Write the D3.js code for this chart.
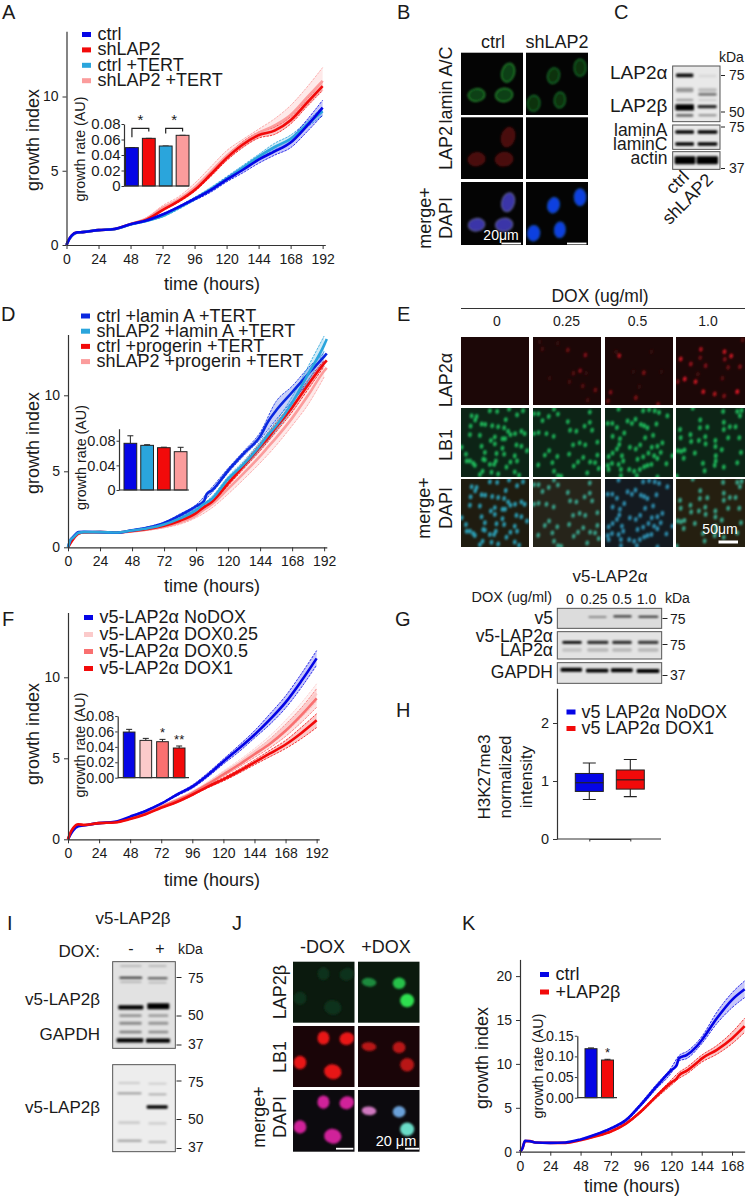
<!DOCTYPE html>
<html><head><meta charset="utf-8">
<script src="https://cdn.jsdelivr.net/npm/d3@7"></script>
<style>html,body{margin:0;padding:0;background:#fff}svg{display:block}text{font-family:"Liberation Sans",Arial,sans-serif;fill:#1a1a1a}</style>
</head><body><div id="c"></div>
<script>
// ---------- series colours / names ----------
const BLUE="#0505e6",RED="#f20a0a",SKY="#2aa5dc",PINK="#fb9c9c",PALE="#fbcaca",SALMON="#f97070";
// ---------- panel A ----------
const T_A=[0,2,4,8,12,24,36,48,60,72,84,96,108,120,132,144,156,168,180,192];
const bandT=[48,60,72,84,96,108,120,132,144,156,168,180,192];
const A_ctrl=[0,.4,.65,.85,.87,1,1.08,1.4,1.65,2.05,2.55,3.1,3.7,4.4,5.05,5.75,6.3,6.9,8,9.25];
const A_sh=[0,.4,.65,.85,.87,1,1.08,1.4,1.7,2.35,2.95,3.7,4.75,5.85,6.75,7.4,7.7,8.4,9.55,10.7];
const A_ctrlT=[0,.38,.62,.84,.87,1,1.07,1.38,1.62,1.95,2.5,3.1,3.75,4.45,5.2,5.95,6.6,7.15,8.1,9];
const A_shT=[0,.38,.62,.84,.87,1,1.07,1.42,1.78,2.5,3.05,3.85,4.9,6,6.85,7.55,8.05,8.75,9.9,11.05];
const A_ctrl_hi=[1.43,1.7,2.1,2.62,3.2,3.8,4.55,5.25,5.95,6.55,7.2,8.4,9.75],A_ctrl_lo=[1.36,1.6,2,2.48,3,3.55,4.25,4.85,5.5,6.05,6.55,7.6,8.75];
const A_sh_hi=[1.43,1.75,2.4,3.02,3.8,4.9,6.02,6.95,7.6,7.95,8.65,9.8,11],A_sh_lo=[1.38,1.66,2.3,2.88,3.6,4.6,5.68,6.55,7.2,7.45,8.15,9.3,10.4];
const A_ctrlT_hi=[1.4,1.66,2,2.6,3.2,3.88,4.6,5.35,6.1,6.85,7.4,8.3,9.3],A_ctrlT_lo=[1.35,1.58,1.88,2.4,3,3.6,4.3,5.05,5.8,6.4,6.9,7.9,8.7];
const A_shT_hi=[1.46,1.85,2.65,3.25,4.15,5.25,6.35,7.1,7.8,8.5,9.4,10.6,11.95],A_shT_lo=[1.38,1.72,2.4,2.9,3.65,4.6,5.7,6.6,7.3,7.75,8.3,9.4,10.5];
const A_legend=["ctrl","shLAP2","ctrl +TERT","shLAP2 +TERT"];
const A_rate=[.0495,.0615,.0516,.0654];
// ---------- panel D ----------
const T_D=[0,2,4,8,12,24,36,48,60,72,84,96,102,104,108,120,132,144,150,156,168,180,192,194];
const D_ctrl=[0,.5,.7,1,1.02,1,.96,1.12,1.3,1.6,2.1,2.7,3.05,3.5,3.75,5.05,6.2,7.3,8.27,9,10.2,11.4,12.55,12.75];
const D_sh=[0,.5,.65,.95,1,1,.97,1.1,1.25,1.5,1.9,2.45,2.85,2.95,3.2,4.5,5.5,6.7,7.4,8,9.5,11.4,13.3,13.7];
const D_red=[0,.3,.55,.9,.97,1,.97,1.08,1.2,1.42,1.75,2.25,2.65,2.75,3,4.2,5.4,6.6,7.2,7.9,9.2,10.7,12.1,12.3];
const D_pink=[0,.3,.55,.9,.97,1,.97,1.05,1.17,1.35,1.65,2.1,2.5,2.6,2.85,3.85,4.9,6,6.6,7.2,8.5,10,11.6,11.8];
const D_ctrl_hi=[1.15,1.35,1.65,2.2,2.8,3.95,5.2,6.35,7.55,9.6,10.6,11.8,12.8],D_ctrl_lo=[1.1,1.27,1.55,2,2.6,3.6,4.9,6.05,7.1,8.4,9.6,10.8,12];
const D_sh_hi=[1.13,1.3,1.55,1.95,2.55,3.35,4.65,5.7,6.95,8.3,9.9,11.9,13.9],D_sh_lo=[1.08,1.2,1.45,1.85,2.35,3.05,4.35,5.3,6.45,7.7,9.1,10.9,12.9];
const D_red_hi=[1.1,1.23,1.47,1.82,2.35,3.15,4.35,5.6,6.85,8.2,9.5,11,12.3],D_red_lo=[1.06,1.17,1.38,1.68,2.15,2.85,4.05,5.2,6.35,7.6,8.9,10.4,11.9];
const D_pink_hi=[1.08,1.22,1.42,1.78,2.25,3.05,4.15,5.25,6.4,7.7,9.1,10.6,12.1],D_pink_lo=[1.02,1.12,1.28,1.52,1.95,2.6,3.5,4.5,5.55,6.7,8,9.4,11.2];
const D_legend=["ctrl +lamin A +TERT","shLAP2 +lamin A +TERT","ctrl +progerin +TERT","shLAP2 +progerin +TERT"];
const D_rate=[.0758,.0725,.0687,.0622],D_rateErr=[.088,.0735,.0695,.0693];
// ---------- panel F ----------
const F_no=[0,.3,.55,.8,.85,1,1.08,1.4,1.75,2.2,2.75,3.25,3.97,4.8,5.6,6.45,7.4,8.45,9.75,11.17];
const F_25=[0,.4,.65,.9,.88,1,1.05,1.3,1.62,2.05,2.45,2.9,3.45,4.1,4.7,5.4,6.1,6.95,7.9,9];
const F_5=[0,.4,.65,.9,.88,1,1.05,1.28,1.6,2,2.4,2.85,3.4,4,4.6,5.25,5.9,6.7,7.65,8.7];
const F_1=[0,.42,.7,.93,.88,1,1.04,1.25,1.55,1.95,2.3,2.75,3.25,3.7,4.2,4.75,5.3,5.85,6.55,7.35];
const F_no_hi=[1.43,1.8,2.25,2.82,3.35,4.1,4.95,5.8,6.7,7.75,8.85,10.2,11.65],F_no_lo=[1.37,1.7,2.15,2.68,3.15,3.85,4.65,5.4,6.25,7.1,8.1,9.35,10.75];
const F_25_hi=[1.32,1.65,2.08,2.5,2.97,3.55,4.22,4.88,5.6,6.4,7.35,8.4,9.6],F_25_lo=[1.28,1.58,2.02,2.4,2.83,3.35,3.98,4.55,5.2,5.85,6.6,7.5,8.5];
const F_5_hi=[1.3,1.63,2.03,2.45,2.92,3.5,4.12,4.75,5.45,6.2,7.1,8.1,9.3],F_5_lo=[1.26,1.57,1.97,2.35,2.78,3.3,3.88,4.45,5.05,5.65,6.35,7.2,8.15];
const F_1_hi=[1.27,1.58,1.98,2.34,2.8,3.32,3.8,4.32,4.9,5.5,6.1,6.9,7.75],F_1_lo=[1.23,1.52,1.92,2.26,2.7,3.18,3.6,4.08,4.6,5.1,5.6,6.2,6.9];
const F_legend=["v5-LAP2α NoDOX","v5-LAP2α DOX0.25","v5-LAP2α DOX0.5","v5-LAP2α DOX1"];
const F_rate=[.0592,.0484,.0467,.0385],F_rateErr=[.0627,.051,.0497,.0411];
// ---------- panel K ----------
const T_K=[0,2,4,8,12,24,36,48,60,72,84,96,108,120,124,126,132,140,144,156,168,178];
const K_bandT=[48,60,72,84,96,108,120,126,132,144,156,168,178];
const K_c=[0,.4,1.25,1.2,1.05,1,1.05,1.4,1.95,2.65,3.6,5.4,7.4,9.3,9.8,10.65,11,12,12.7,15.2,17.3,18.5];
const K_r=[0,.4,1.2,1.2,1.05,1,1,1.3,1.75,2.3,3.2,4.6,6.3,7.9,8.3,8.7,9.2,10.1,10.6,11.6,12.9,14.3];
const K_c_hi=[1.45,2.02,2.75,3.75,5.6,7.65,9.6,10.95,11.4,13.1,15.9,18.1,19.45],K_c_lo=[1.35,1.88,2.55,3.45,5.2,7.15,9,10.35,10.6,12.3,14.6,16.4,17.55];
const K_r_hi=[1.33,1.82,2.38,3.3,4.75,6.5,8.2,9.05,9.6,11,12.1,13.6,15.2],K_r_lo=[1.27,1.7,2.22,3.1,4.45,6.1,7.6,8.35,8.85,10.2,11.1,12.3,13.6];
const K_legend=["ctrl","+LAP2β"];
const K_rate=[.1186,.0912],K_rateErr=[.1205,.093];
// ---------- panel H ----------
const H_names=["v5 LAP2α NoDOX","v5 LAP2α DOX1"];
const H_lo=[.68,.73],H_q1=[.82,.86],H_med=[.97,1.02],H_q3=[1.13,1.19],H_hi=[1.31,1.37];
const xTicks=[0,24,48,72,96,120,144,168,192];
// ---------- micrograph nuclei (crop-grid coordinates) ----------
const E_col1=[[90,18],[112,20],[148,13],[190,18],[172,30],[35,33],[50,35],[46,45],[138,44],[32,63],[65,57],[76,58],[97,62],[115,65],[133,68],[145,78],[152,88],[166,85],[185,78],[195,85],[30,88],[60,90],[105,95],[93,105],[128,100],[136,100],[105,115],[170,118],[185,122],[65,122],[5,125],[128,128],[202,135],[75,140],[18,145],[110,143],[133,145],[165,150],[70,160],[108,165],[75,162],[172,165],[40,172],[30,165],[20,165],[45,178],[90,175],[103,175],[152,168],[140,183],[68,195],[60,205],[95,198],[115,203],[165,197],[178,207]];
const E_col2=[[283,13],[222,27],[236,27],[295,28],[267,35],[248,47],[392,22],[392,52],[325,50],[376,63],[399,75],[332,75],[351,78],[222,85],[236,82],[260,85],[282,93],[415,110],[361,112],[341,118],[378,118],[268,135],[255,148],[293,152],[329,145],[415,148],[372,155],[393,168],[408,170],[356,168],[278,170],[235,177],[343,180],[419,187],[283,195],[384,200],[295,208],[305,210]];
const E_col3=[[48,13],[122,18],[140,15],[157,18],[170,23],[195,33],[75,48],[88,55],[99,43],[15,55],[29,55],[115,58],[125,62],[135,68],[162,57],[43,67],[65,83],[30,93],[52,100],[128,97],[152,90],[180,112],[165,122],[148,125],[113,118],[50,117],[43,130],[82,125],[100,130],[30,142],[138,142],[122,153],[155,150],[175,140],[18,152],[58,150],[105,160],[165,158],[210,150],[62,165],[48,175],[28,172],[15,178],[18,190],[55,190],[80,190],[95,195],[112,190],[125,182],[135,178],[147,175],[192,173],[103,208],[55,208],[165,212]];
const E_col4=[[360,20],[402,20],[415,17],[410,33],[292,45],[362,52],[380,65],[397,65],[291,68],[313,66],[362,73],[232,73],[263,88],[234,97],[375,97],[408,97],[307,94],[288,105],[265,108],[337,105],[308,115],[337,123],[356,132],[225,135],[245,133],[235,137],[276,142],[338,150],[413,140],[243,157],[338,165],[402,170],[300,172],[335,178],[362,183],[305,194],[222,210],[270,10]];
const E_red2=[[115,45,.5],[168,60,.6],[38,42,.3],[152,107,.6],[132,115,.4],[198,165,.5],[160,153,.4],[120,140,.3],[60,130,.2],[30,20,.2],[85,25,.2],[170,115,.2],[175,195,.3]];
const E_red3=[[268,62,.8],[342,113,.6],[242,172,.6],[234,198,.5],[318,188,.6],[385,208,.6],[328,155,.2],[258,50,.2],[365,50,.2],[395,110,.15],[310,110,.15]];
const E_red4=[[514,43,.8],[584,50,.9],[604,63,.9],[454,72,.9],[484,87,.7],[585,73,.6],[512,68,.5],[595,97,.5],[630,95,.6],[528,92,.6],[466,132,.95],[445,140,.6],[498,140,.9],[521,170,.9],[555,177,.8],[583,183,.6],[622,170,1],[578,130,.4],[638,15,.4],[505,118,.3]];
const B_cells1=[[142,60,19,29,15],[47,127,25,19,-8],[130,127,26,20,-8]];
const B_cells2=[[83,69,18,24,15],[163,45,18,26,0],[23,152,19,24,5],[102,142,17,24,5]];
const J_cells1=[[91,36,18,20,0],[161,38,22,19,-15],[21,110,19,20,0],[119,138,26,22,10]];
const J_cells2=[[33,62,22,13,5],[123,65,19,17,0],[147,117,21,20,0]];
// ---------- blots: lane x0, lane x1, y, height, darkness (crop-grid coordinates) ----------
const C_blot1=[[888,940,226,11,.95],[955,1010,228,8,.08],[888,940,270,14,.35],[955,1010,270,10,.2],[955,1010,283,8,.5],[888,940,300,8,.3],[955,1010,300,6,.12],[886,942,322,19,1],[953,1010,320,10,.85],[888,940,346,8,.55],[955,1010,346,6,.4]];
const C_blot2=[[886,942,396,10,1],[953,1012,396,10,1],[886,942,432,11,1],[953,1012,432,10,1]];
const C_blot3=[[884,946,481,24,1],[950,1014,481,24,1]];
const G_blot1=[[565,620,186,5,.5],[640,695,184,7,.75],[715,775,185,6,.8]];
const G_blot2=[[487,545,262,8,1],[562,625,262,10,.8],[637,695,262,10,.8],[714,775,262,10,.75],[487,545,285,10,.15],[562,625,285,10,.2],[637,695,285,10,.2],[714,775,285,10,.2]];
const G_blot3=[[482,546,344,12,1],[558,625,347,11,1],[633,698,346,12,1],[710,778,348,12,1]];
const I_blot1=[[360,425,198,5,.25],[445,500,198,5,.25],[358,427,233,6,.8],[443,503,235,6,.65],[360,425,246,4,.25],[445,500,248,4,.25],[355,430,322,13,1],[442,508,319,18,1],[358,425,347,8,.35],[445,505,347,8,.3],[358,425,370,9,.4],[445,505,370,9,.35],[358,425,396,8,.45],[445,505,396,8,.4],[350,430,421,13,1],[438,510,422,13,1]];
const I_blot2=[[355,420,549,5,.2],[445,500,551,5,.15],[352,425,580,5,.4],[445,500,583,5,.3],[440,503,621,11,1],[355,420,668,8,.15],[445,500,670,8,.12],[352,425,722,6,.35],[445,500,726,6,.25]];

const W=747,H=1197;
const svg=d3.select("#c").append("svg").attr("width",W).attr("height",H).attr("viewBox",[0,0,W,H]);
const defs=svg.append("defs");
[["b1",.8],["b2",.5],["b3",1.2]].forEach(([id,s])=>defs.append("filter").attr("id",id).attr("x","-30%").attr("y","-60%").attr("width","160%").attr("height","220%").append("feGaussianBlur").attr("stdDeviation",s));

function T(x,y,s,o={}){
  const t=svg.append("text").attr("x",x).attr("y",y).text(s)
    .attr("font-size",o.size||18).attr("text-anchor",o.anchor||"start");
  if(o.rot!=null)t.attr("transform",`rotate(${o.rot},${x},${y})`);
  if(o.fill)t.style("fill",o.fill);
  return t;
}
function styleAxis(g,size){
  g.select(".domain").attr("stroke","#333").attr("stroke-width",1.2);
  g.selectAll(".tick line").attr("stroke","#333").attr("stroke-width",1);
  g.selectAll(".tick text").attr("font-size",size).attr("font-family",'"Liberation Sans",Arial,sans-serif').style("fill","#1a1a1a");
}
// growth curve panel
function growth(o){
  const x=d3.scaleLinear().domain([0,o.xMax]).range([o.x0,o.x0+o.xMax*o.xk]);
  const y=d3.scaleLinear().domain([0,o.yMax]).range([o.y0,o.y0-o.yMax*o.yk]);
  const g=svg.append("g");
  const ln=d3.line().x(d=>x(d[0])).y(d=>y(d[1])).curve(d3.curveMonotoneX);
  const ar=d3.area().x(d=>x(d[0])).y0(d=>y(d[2])).y1(d=>y(d[1])).curve(d3.curveMonotoneX);
  o.series.forEach(s=>{
    const bt=o.bandT;
    const hi=bt.map((t,i)=>[t,s.hi[i]]),lo=bt.map((t,i)=>[t,s.lo[i]]);
    g.append("path").attr("d",ar(bt.map((t,i)=>[t,s.hi[i],s.lo[i]]))).attr("fill",s.c).attr("opacity",.22);
    [hi,lo].forEach(b=>g.append("path").attr("d",ln(b)).attr("fill","none").attr("stroke",s.c).attr("stroke-width",.8).attr("stroke-dasharray","2.5 1"));
  });
  o.series.forEach(s=>{
    g.append("path").attr("d",ln(o.t.map((t,i)=>[t,s.v[i]]))).attr("fill","none").attr("stroke",s.c).attr("stroke-width",2.6);
  });
  const ax=svg.append("g").attr("transform",`translate(0,${o.y0})`).call(d3.axisBottom(x).tickValues(o.xTicks).tickSize(4).tickSizeOuter(0).tickPadding(5));
  styleAxis(ax,14);
  const ay=svg.append("g").attr("transform",`translate(${o.x0},0)`).call(d3.axisLeft(y).tickValues(o.yTicks).tickSize(4).tickSizeOuter(0).tickPadding(4));
  styleAxis(ay,14);
  T(o.ylabX,o.ylabY,"growth index",{rot:-90,anchor:"middle"});
  T(o.xlabX,o.xlabY,"time (hours)",{anchor:"middle"});
  // legend
  o.legend.forEach((n,i)=>{
    const yy=o.legY+i*o.legStep;
    svg.append("rect").attr("x",o.legX).attr("y",yy-8).attr("width",9).attr("height",5).attr("fill",o.series.find(s=>s.n===n).c);
    T(o.legX+15.5,yy,n,{size:o.legSize||18});
  });
}
// inset bars
function inset(o){
  const y=d3.scaleLinear().domain([0,o.yMax]).range([o.y0,o.y0-o.yMax*o.yk]);
  const x=d3.scaleBand().domain(d3.range(o.vals.length)).range(o.xr).paddingInner(o.pad).paddingOuter(0);
  svg.selectAll(null).data(o.vals).enter().append("path")
    .attr("d",(d,i)=>`M${x(i)+x.bandwidth()/2},${y(o.err?o.err[i]:d)}V${y(d)}M${x(i)+x.bandwidth()/2-3},${y(o.err?o.err[i]:d)}h6`)
    .attr("stroke","#222").attr("stroke-width",1).attr("fill","none");
  svg.selectAll(null).data(o.vals).enter().append("rect")
    .attr("x",(d,i)=>x(i)).attr("width",x.bandwidth()).attr("y",d=>y(d)).attr("height",d=>o.y0-y(d))
    .attr("fill",(d,i)=>o.colors[i]).attr("stroke","#222").attr("stroke-width",1);
  const ay=svg.append("g").attr("transform",`translate(${o.axX},0)`).call(d3.axisLeft(y).tickValues(o.ticks).tickFormat(o.fmt).tickSize(2.5).tickSizeOuter(0).tickPadding(1));
  styleAxis(ay,o.tickSize||15);
  svg.append("line").attr("x1",o.axX).attr("x2",o.axEnd).attr("y1",o.y0).attr("y2",o.y0).attr("stroke","#333").attr("stroke-width",1.2);
  T(o.labX,o.labY,"growth rate (AU)",{size:14.3,rot:-90,anchor:"middle"});
  return {x,y};
}
// fluorescence image
function field(box,bg){
  svg.append("rect").attr("x",box[0]).attr("y",box[1]).attr("width",box[2]-box[0]).attr("height",box[3]-box[1]).attr("fill",bg);
}
function nuclei(box,cells,dom,col,rim,blur){
  const sx=d3.scaleLinear().domain(dom.x).range([box[0],box[2]]),sy=d3.scaleLinear().domain(dom.y).range([box[1],box[3]]);
  const k=(box[2]-box[0])/(dom.x[1]-dom.x[0]);
  const clip="cp"+Math.round(box[0])+"_"+Math.round(box[1]);
  defs.append("clipPath").attr("id",clip).append("rect").attr("x",box[0]).attr("y",box[1]).attr("width",box[2]-box[0]).attr("height",box[3]-box[1]);
  const g=svg.append("g").attr("clip-path",`url(#${clip})`).append("g").attr("filter",`url(#${blur||"b1"})`);
  cells.forEach(c=>{
    const cx=sx(dom.x[0]+c[0]),cy=sy(dom.y[0]+c[1]),rx=c[2]*k,ry=c[3]*k;
    g.append("ellipse").attr("cx",cx).attr("cy",cy).attr("rx",rx).attr("ry",ry).attr("transform",`rotate(${c[4]||0},${cx},${cy})`)
      .attr("fill",c[5]||col).attr("stroke",rim||"none").attr("stroke-width",rim?1.2:0);
  });
}
function blot(ox,oy,box,bands,bg){
  const X=v=>ox+v/3,Y=v=>oy+v/3;
  svg.append("rect").attr("x",X(box[0])).attr("y",Y(box[2])).attr("width",(box[1]-box[0])/3).attr("height",(box[3]-box[2])/3).attr("fill",bg||"#e9e9e9");
  const g=svg.append("g").attr("filter","url(#b1)");
  bands.forEach(b=>g.append("rect").attr("x",X(b[0])).attr("y",Y(b[2]-b[3]/2)).attr("width",(b[1]-b[0])/3).attr("height",b[3]/3).attr("rx",1).attr("fill","#050505").attr("opacity",b[4]));
  svg.append("rect").attr("x",X(box[0])).attr("y",Y(box[2])).attr("width",(box[1]-box[0])/3).attr("height",(box[3]-box[2])/3).attr("fill","none").attr("stroke","#555").attr("stroke-width",1);
}
function tick(x1,x2,y){svg.append("line").attr("x1",x1).attr("x2",x2).attr("y1",y).attr("y2",y).attr("stroke","#222").attr("stroke-width",1);}
function scalebar(x1,x2,y){svg.append("rect").attr("x",x1).attr("y",y-.9).attr("width",x2-x1).attr("height",1.8).attr("fill","#fff");}

// panel letters
[["A",2,18.5],["B",397,18.5],["C",614,18.5],["D",1,321],["E",397,321],["F",2,626],["G",395,626],["H",396,717],["I",7,930],["J",232,930],["K",462,930]]
 .forEach(d=>T(d[1],d[2],d[0],{size:20}));

// ---- A ----
growth({x0:66.5,xk:1.334,xMax:194,y0:245,yk:14.85,yMax:14.4,t:T_A,bandT,xTicks,yTicks:[0,5,10],
  series:[{n:A_legend[3],c:PINK,v:A_shT,hi:A_shT_hi,lo:A_shT_lo},{n:A_legend[1],c:RED,v:A_sh,hi:A_sh_hi,lo:A_sh_lo},{n:A_legend[2],c:SKY,v:A_ctrlT,hi:A_ctrlT_hi,lo:A_ctrlT_lo},{n:A_legend[0],c:BLUE,v:A_ctrl,hi:A_ctrl_hi,lo:A_ctrl_lo}],
  legend:A_legend,legX:82,legY:40,legStep:15.4,ylabX:38.5,ylabY:140,xlabX:212,xlabY:290});
const iA=inset({y0:186,yk:775,yMax:.08,vals:A_rate,colors:[BLUE,RED,SKY,PINK],xr:[125.5,189],pad:.24,axX:124,axEnd:189,ticks:[0,.02,.04,.06,.08],fmt:d=>d===0?"0":d3.format(".2f")(d),labX:85,labY:149});
[[0,.0744,.0628,.0702],[2,.0744,.0678,.0702]].forEach(b=>{
  const a=iA.x(b[0])+iA.x.bandwidth()/2,c=iA.x(b[0]+1)+iA.x.bandwidth()/2;
  svg.append("path").attr("d",`M${a},${iA.y(b[2])}V${iA.y(b[1])}H${c}V${iA.y(b[3])}`).attr("fill","none").attr("stroke","#222").attr("stroke-width",1.2);
  T((a+c)/2,iA.y(b[1])-3,"*",{size:15,anchor:"middle"});
});

// ---- D ----
growth({x0:68,xk:1.334,xMax:194,y0:547.3,yk:15.2,yMax:14,t:T_D,bandT,xTicks,yTicks:[0,5,10],
  series:[{n:D_legend[3],c:PINK,v:D_pink,hi:D_pink_hi,lo:D_pink_lo},{n:D_legend[2],c:RED,v:D_red,hi:D_red_hi,lo:D_red_lo},{n:D_legend[0],c:"#0a28e0",v:D_ctrl,hi:D_ctrl_hi,lo:D_ctrl_lo},{n:D_legend[1],c:SKY,v:D_sh,hi:D_sh_hi,lo:D_sh_lo}],
  legend:D_legend,legX:81,legY:321.5,legStep:15.2,ylabX:39,ylabY:443,xlabX:212,xlabY:592});
inset({y0:490,yk:616,yMax:.0995,vals:D_rate,err:D_rateErr,colors:[BLUE,SKY,RED,PINK],xr:[124,187],pad:.24,axX:119,axEnd:189,tickSize:14.5,ticks:[0,.04,.08],fmt:d=>d===0?"0":d3.format(".2f")(d),labX:86,labY:457.5});

// ---- B ----
const Bb=[[461,52.7,523,115],[526,52.7,588,115],[461,117.3,523,179],[526,117.3,588,179],[461,182,523,245],[526,182,588,245]];
const Bd={x:[0,187],y:[0,187]};
Bb.forEach(b=>field(b,"#040404"));
nuclei(Bb[0],B_cells1,Bd,"#0d3f12","#258a30");
nuclei(Bb[1],B_cells2,Bd,"#0a3310","#17702a");
nuclei(Bb[2],B_cells1,Bd,"#4a0c0c","#5c1010");
nuclei(Bb[4],B_cells1,Bd,"#3a34a8","#5a5a90");
nuclei(Bb[5],B_cells2,Bd,"#0b40e0","#123f90");
T(493,48,"ctrl",{anchor:"middle"});T(557,48,"shLAP2",{anchor:"middle"});
T(451.5,85,"lamin A/C",{rot:-90,anchor:"middle"});T(451.5,148,"LAP2",{rot:-90,anchor:"middle"});
T(430.5,218,"merge+",{rot:-90,anchor:"middle"});T(451.5,218,"DAPI",{rot:-90,anchor:"middle"});
T(501,240,"20μm",{size:14,anchor:"middle",fill:"#fff"});scalebar(501.5,521,243.5);scalebar(567,586.5,243.5);

// ---- C ----
blot(380,0,[878,1020,198,365],C_blot1);blot(380,0,[878,1020,375,448],C_blot2);blot(380,0,[878,1020,455,508],C_blot3);
T(719,62,"kDa",{size:14});
[["LAP2α",79],["LAP2β",112],["laminA",136],["laminC",150],["actin",164]].forEach(d=>T(667.5,d[1],d[0],{anchor:"end",size:d[0][0]==="L"?19:17.5}));
[["75",80,75.5],["50",117,112],["75",132,127],["37",173,168.5]].forEach(d=>{T(729,d[1],d[0],{size:14});tick(721,725,d[2]);});
T(690,178,"ctrl",{size:18,rot:-45,anchor:"end"});T(714,181,"shLAP2",{size:18,rot:-45,anchor:"end"});

// ---- E ----
T(600,302,"DOX (ug/ml)",{size:17.5,anchor:"middle"});
svg.append("line").attr("x1",461).attr("x2",745).attr("y1",308.5).attr("y2",308.5).attr("stroke","#333").attr("stroke-width",1.2);
["0","0.25","0.5","1.0"].forEach((s,i)=>T([497,566.5,637.5,708][i],326,s,{size:14,anchor:"middle"}));
const Ecols=[[461,529],[533,601],[605,673],[676,745]],Erows=[[337,405],[408,477],[479,547]];
const Edom=[{x:[3,208],y:[10,212]},{x:[219,426],y:[10,212]},{x:[7,212],y:[10,212]},{x:[220,425],y:[10,212]}];
const Redd=[null,{x:[10,215],y:[6,210]},{x:[225,430],y:[6,210]},{x:[440,645],y:[6,210]}];
const Ecells=[E_col1,E_col2,E_col3,E_col4],Ered=[[],E_red2,E_red3,E_red4];
const mergeBg=["#1f1c10","#26241a","#141a20","#251f10"],mergeC=["#2b9fb5","#3aa890","#2d8fb0","#39a88c"];
Ecols.forEach((c,i)=>{
  field([c[0],Erows[0][0],c[1],Erows[0][1]],"#1c0707");
  if(i)nuclei([c[0],Erows[0][0],c[1],Erows[0][1]],Ered[i].map(d=>[d[0]-Redd[i].x[0],d[1]-Redd[i].y[0],5.5,7.5,15,d3.interpolateRgb("#220808","#e01828")(Math.pow(d[2],1.4))]),{x:[0,205],y:[0,204]},"#800");
  const bl=[c[0],Erows[1][0],c[1],Erows[1][1]],bm=[c[0],Erows[2][0],c[1],Erows[2][1]];
  field(bl,"#0d2416");
  const rel=Ecells[i].map(d=>[d[0]-Edom[i].x[0],d[1]-Edom[i].y[0],5.5,7.5,10]);
  const dm={x:[0,Edom[i].x[1]-Edom[i].x[0]],y:[0,202]};
  nuclei(bl,rel,dm,"#1fb85a");
  field(bm,mergeBg[i]);
  nuclei(bm,rel,dm,mergeC[i]);
});
T(451.5,380,"LAP2α",{rot:-90,anchor:"middle"});T(451.5,445,"LB1",{rot:-90,anchor:"middle"});
T(430,508,"merge+",{rot:-90,anchor:"middle"});T(451.5,508,"DAPI",{rot:-90,anchor:"middle"});
T(720,534,"50μm",{size:14,anchor:"middle",fill:"#fff"});svg.append("rect").attr("x",718.5).attr("y",540.5).attr("width",19.5).attr("height",3).attr("fill","#fff");

// ---- F ----
growth({x0:68,xk:1.295,xMax:194,y0:839.3,yk:16.2,yMax:14,t:T_A,bandT,xTicks,yTicks:[0,5,10],
  series:[{n:F_legend[1],c:PALE,v:F_25,hi:F_25_hi,lo:F_25_lo},{n:F_legend[2],c:SALMON,v:F_5,hi:F_5_hi,lo:F_5_lo},{n:F_legend[0],c:BLUE,v:F_no,hi:F_no_hi,lo:F_no_lo},{n:F_legend[3],c:RED,v:F_1,hi:F_1_hi,lo:F_1_lo}],
  legend:F_legend,legX:84,legY:623,legStep:17,ylabX:39,ylabY:734,xlabX:212,xlabY:886});
const iF=inset({y0:777.7,yk:771,yMax:.08,vals:F_rate,err:F_rateErr,colors:[BLUE,PALE,SALMON,RED],xr:[123.3,185],pad:.3,axX:117.7,axEnd:189,tickSize:14.3,ticks:[0,.02,.04,.06,.08],fmt:d3.format(".2f"),labX:85,labY:745});
T(iF.x(2)+iF.x.bandwidth()/2,iF.y(.0497)-2,"*",{size:13,anchor:"middle"});
T(iF.x(3)+iF.x.bandwidth()/2,iF.y(.0411)-2,"**",{size:13,anchor:"middle"});

// ---- G ----
T(610,582,"v5-LAP2α",{size:17,anchor:"middle"});T(471.5,602,"DOX (ug/ml)",{size:14.5});
["0","0.25","0.5","1.0"].forEach((s,i)=>T([570,594,622,646.5][i],604,s,{size:14,anchor:"middle"}));
T(665,603,"kDa",{size:14});
blot(400,555,[472,785,160,220],G_blot1,"#dcdcdc");blot(400,555,[472,785,230,312],G_blot2,"#e3e3e3");blot(400,555,[472,785,323,385],G_blot3,"#e3e3e3");
[["v5",623.5],["v5-LAP2α",642],["LAP2α",656],["GAPDH",678]].forEach(d=>T(553,d[1],d[0],{anchor:"end",size:17.5}));
[["75",623.5,618.5],["75",650,644.5],["37",680,675.5]].forEach(d=>{T(670,d[1],d[0],{size:14});tick(662.5,667.5,d[2]);});

// ---- H ----
(function(){
  const y=d3.scaleLinear().domain([0,2.6]).range([839,839-2.6*58]);
  const x=d3.scalePoint().domain(H_names).range([589.3,630.3]);
  const ay=svg.append("g").attr("transform","translate(557,0)").call(d3.axisLeft(y).tickValues([0,1,2]).tickFormat(d3.format("d")).tickSize(4).tickSizeOuter(0).tickPadding(4));
  styleAxis(ay,14.5);
  const ax=svg.append("g").attr("transform","translate(0,839)").call(d3.axisBottom(x).tickFormat("").tickSize(2.5).tickSizeOuter(0));
  styleAxis(ax,14);
  svg.append("line").attr("x1",557).attr("x2",661).attr("y1",839).attr("y2",839).attr("stroke","#333").attr("stroke-width",1.2);
  H_names.forEach((n,i)=>{
    const cx=x(n),c=[BLUE,RED][i],hw=14;
    svg.append("path").attr("d",`M${cx-6.5},${y(H_hi[i])}h13M${cx},${y(H_hi[i])}V${y(H_lo[i])}M${cx-6.5},${y(H_lo[i])}h13`).attr("stroke","#222").attr("stroke-width",1.1).attr("fill","none");
    svg.append("rect").attr("x",cx-hw).attr("width",2*hw).attr("y",y(H_q3[i])).attr("height",y(H_q1[i])-y(H_q3[i])).attr("fill",c).attr("stroke","#222").attr("stroke-width",1);
    svg.append("line").attr("x1",cx-hw).attr("x2",cx+hw).attr("y1",y(H_med[i])).attr("y2",y(H_med[i])).attr("stroke","#222").attr("stroke-width",1.2);
    svg.append("rect").attr("x",566.5).attr("y",[709.5,726][i]).attr("width",9).attr("height",5).attr("fill",c);
    T(581.5,[717.5,734][i],n,{size:18});
  });
  T(489.5,777,"H3K27me3",{size:17,rot:-90,anchor:"middle"});T(510.5,777,"normalized",{size:17,rot:-90,anchor:"middle"});T(532,777,"intensity",{size:17,rot:-90,anchor:"middle"});
})();

// ---- I ----
T(133,924,"v5-LAP2β",{size:17,anchor:"middle"});T(100,957,"DOX:",{size:17,anchor:"end"});
T(131,954,"-",{size:16,anchor:"middle"});T(160,954,"+",{size:16,anchor:"middle"});T(178,954,"kDa",{size:14});
blot(0,900,[338,526,185,445],I_blot1,"#e2e2e2");blot(0,900,[338,526,494,755],I_blot2,"#ededed");
[["v5-LAP2β",1005],["GAPDH",1040],["v5-LAP2β",1112.5]].forEach(d=>T(100,d[1],d[0],{anchor:"end",size:17}));
[["75",983,977.5],["50",1020,1016],["37",1049,1045],["75",1087,1081],["50",1124,1119.5],["37",1152,1148.5]].forEach(d=>{T(188,d[1],d[0],{size:14});tick(176.5,181.5,d[2]);});

// ---- J ----
T(322.5,952.5,"-DOX",{anchor:"middle"});T(386,952.5,"+DOX",{anchor:"middle"});
const Jc=[[293,354.5],[358,419.5]],Jr=[[961.7,1022.7],[1026,1087],[1090,1151.7]];
const Jbox=(c,r)=>[Jc[c][0],Jr[r][0],Jc[c][1],Jr[r][1]];
const Jd={x:[0,184],y:[0,184]};
field(Jbox(0,0),"#0b1a0e");nuclei(Jbox(0,0),J_cells1,Jd,"#10301a",null,"b3");
field(Jbox(1,0),"#0b1a0e");nuclei(Jbox(1,0),[J_cells2[0].concat(["#1f8a3c"]),J_cells2[1].concat(["#25c04a"]),J_cells2[2].concat(["#2fe050"])],Jd,"#2a4");
field(Jbox(0,1),"#1a0508");nuclei(Jbox(0,1),J_cells1,Jd,"#e81818");
field(Jbox(1,1),"#1a0508");nuclei(Jbox(1,1),J_cells2,Jd,"#b81818");
field(Jbox(0,2),"#0c0a0e");nuclei(Jbox(0,2),J_cells1,Jd,"#d0209a");
field(Jbox(1,2),"#0c0a0e");nuclei(Jbox(1,2),[J_cells2[0].concat(["#d078c0"]),J_cells2[1].concat(["#6aa0d8"]),J_cells2[2].concat(["#6adcc8"])],Jd,"#88c");
T(286,992,"LAP2β",{rot:-90,anchor:"middle"});T(286,1057,"LB1",{rot:-90,anchor:"middle"});
T(265,1117,"merge+",{rot:-90,anchor:"middle"});T(286,1117,"DAPI",{rot:-90,anchor:"middle"});
T(396,1146,"20 μm",{size:14.5,anchor:"middle",fill:"#fff"});scalebar(336,353.3,1148.7);scalebar(405,419.3,1148.7);

// ---- K ----
growth({x0:520,xk:1.262,xMax:178,y0:1151.7,yk:8.78,yMax:21.9,t:T_K,bandT:K_bandT,xTicks:[0,24,48,72,96,120,144,168],yTicks:[0,5,10,15,20],
  series:[{n:K_legend[1],c:RED,v:K_r,hi:K_r_hi,lo:K_r_lo},{n:K_legend[0],c:BLUE,v:K_c,hi:K_c_hi,lo:K_c_lo}],
  legend:K_legend,legX:540,legY:980,legStep:17.5,ylabX:488,ylabY:1058,xlabX:632,xlabY:1192});
const iK=inset({y0:1097.7,yk:413,yMax:.15,vals:K_rate,err:K_rateErr,colors:[BLUE,RED],xr:[585,613.5],pad:.27,axX:577.3,axEnd:617,tickSize:14.3,ticks:[0,.05,.10,.15],fmt:d3.format(".2f"),labX:543,labY:1066});
T(iK.x(1)+iK.x.bandwidth()/2,iK.y(.093)-2,"*",{size:13,anchor:"middle"});
</script></body></html>
